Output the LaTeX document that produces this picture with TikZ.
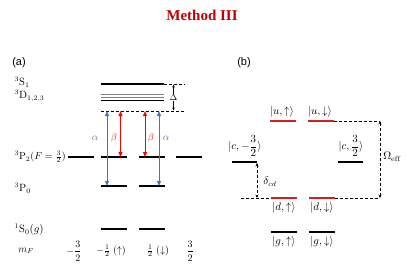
\documentclass[tikz,border=0pt]{standalone}
\usepackage{amsmath}
\usepackage{fontspec}
\setsansfont{Liberation Sans}
\newfontfamily\titlefont{Liberation Serif}
\usetikzlibrary{arrows.meta}
\definecolor{myblue}{RGB}{68,114,196}
\definecolor{myred}{RGB}{255,0,0}
\definecolor{titlered}{RGB}{192,0,0}
\definecolor{levred}{RGB}{214,30,30}
\begin{document}
\begin{tikzpicture}[x=1pt,y=-1pt,
  lev/.style={line width=1.3pt},
  glev/.style={line width=1pt,gray},
  rlev/.style={line width=1.6pt,levred},
  dline/.style={densely dashed,line width=0.6pt},
  barr/.style={myblue,line width=1pt,{Triangle[length=5pt,width=4pt]}-{Triangle[length=5pt,width=4pt]}},
  rarr/.style={myred,line width=1pt,{Triangle[length=5pt,width=4pt]}-{Triangle[length=5pt,width=4pt]}},
  darr/.style={densely dashed,line width=0.7pt,{Stealth[length=3.5pt,width=3pt]}-{Stealth[length=3.5pt,width=3pt]}},
  sarr/.style={line width=0.5pt,{Stealth[length=3pt,width=2.6pt]}-{Stealth[length=3pt,width=2.6pt]}},
  lab/.style={inner sep=0.5pt,font=\fontsize{10.5}{12}\selectfont},
  glab/.style={inner sep=0.5pt,font=\fontsize{10}{11}\selectfont},
  blab/.style={inner sep=0.5pt,font=\fontsize{10.5}{12}\selectfont},
  plab/.style={font=\sffamily\fontsize{11}{13}\selectfont}]
\useasboundingbox (0,0) rectangle (407,269);
\node[font=\titlefont\bfseries\fontsize{15}{17}\selectfont,text=titlered] (title) at (202,15) {Method III};
\node[plab] (pa) at (19,63) {(a)};
\node[plab] (pb) at (244,63) {(b)};
% ---------- panel (a) ----------
\draw[lev] (101,84) -- (164,84) coordinate (sr);
\draw[dline] (sr) -- (185,84) coordinate (dt);
\draw[glev] (101,94) -- (164,94);
\draw[glev] (101,97) -- (164,97);
\draw[line width=0.9pt] (101,100) -- (164,100);
\draw[dline] (101,111) -- (185,111) coordinate (db);
\coordinate (dA) at (173.5,84.5);
\coordinate (dB) at (173.5,110.5);
\draw[sarr] (dA) -- (dB) node[midway,fill=white,inner sep=0.3pt,font=\fontsize{9}{10}\selectfont] (dl) {$\Delta$};
% 3P2 levels
\draw[lev] (68,157) -- (94,157);
\draw[lev] (101,157) -- (127,157);
\draw[lev] (139,157) -- (165,157);
\draw[lev] (176,157) -- (202,157);
% 3P0
\draw[lev] (101,186) -- (127,186);
\draw[lev] (139,186) -- (165,186);
% 1S0
\draw[lev] (101,229) -- (127,229);
\draw[lev] (139,229) -- (165,229);
% arrows
\coordinate (a1t) at (107,111); \coordinate (a1b) at (107,186);
\coordinate (a2t) at (159,111); \coordinate (a2b) at (159,186);
\coordinate (b1t) at (120.5,111); \coordinate (b1b) at (120.5,157);
\coordinate (b2t) at (145,111); \coordinate (b2b) at (145,157);
\draw[barr] (a1t) -- (a1b);
\draw[barr] (a2t) -- (a2b);
\draw[rarr] (b1t) -- (b1b);
\draw[rarr] (b2t) -- (b2b);
\node[glab,text=myblue] (al1) at (95,138) {$\alpha$};
\node[glab,text=myred] (be1) at (114,138) {$\beta$};
\node[glab,text=myred] (be2) at (151,138) {$\beta$};
\node[glab,text=myblue] (al2) at (166,138) {$\alpha$};
% labels
\node[lab,anchor=west] (s1) at (14,82.5) {$^3\mathrm{S}_1$};
\node[lab,anchor=west] (d123) at (14,96) {$^3\mathrm{D}_{1,2,3}$};
\node[lab,anchor=west,font=\fontsize{10}{11}\selectfont] (p2) at (14,157) {$^3\mathrm{P}_2(F=\tfrac{3}{2})$};
\node[lab,anchor=west] (p0) at (14,188) {$^3\mathrm{P}_0$};
\node[lab,anchor=west] (s0) at (14,230) {$^1\mathrm{S}_0(g)$};
\node[glab] (mf) at (26,251) {$m_F$};
\node[glab] (m1) at (74,251) {$-\dfrac{3}{2}$};
\node[glab] (m2) at (111,251) {$-\tfrac{1}{2}\;(\uparrow)$};
\node[glab] (m3) at (158,251) {$\tfrac{1}{2}\;(\downarrow)$};
\node[glab] (m4) at (190,251) {$\dfrac{3}{2}$};
% ---------- panel (b) ----------
\draw[rlev] (270,121) -- (296,121);
\draw[rlev] (308,121) -- (334,121) coordinate (ur);
\coordinate (ot) at (380,121);
\draw[dline] (ur) -- (ot);
\draw[rlev] (271,198) coordinate (dl1) -- (297,198);
\draw[rlev] (309,198) -- (335,198) coordinate (dr);
\coordinate (ob) at (380,198);
\coordinate (dleft) at (241,198);
\draw[dline] (dr) -- (ob);
\draw[dline] (dleft) -- (dl1);
\draw[lev] (271,232) -- (297,232);
\draw[lev] (309,232) -- (335,232);
\draw[lev] (232,162) -- (257,162);
\draw[lev] (338,162) -- (363,162);
\coordinate (ct) at (257,163);
\coordinate (cb) at (257,198);
\draw[darr] (ct) -- (cb);
\draw[darr] (ot) -- (ob);
\node[blab] (uu) at (282,112) {$|u,\uparrow\rangle$};
\node[blab] (ud) at (320,112) {$|u,\downarrow\rangle$};
\node[blab] (cm) at (245,146) {$|c,-\dfrac{3}{2}\rangle$};
\node[blab] (cp) at (351,146) {$|c,\dfrac{3}{2}\rangle$};
\node[blab] (du) at (284,208) {$|d,\uparrow\rangle$};
\node[blab] (dd) at (322,208) {$|d,\downarrow\rangle$};
\node[blab] (gu) at (284,242) {$|g,\uparrow\rangle$};
\node[blab] (gd) at (322,242) {$|g,\downarrow\rangle$};
\node[blab] (dcd) at (270,182) {$\delta_{cd}$};
\node[lab,font=\fontsize{10.5}{12}\selectfont] (om) at (392,157) {$\Omega_{\mathrm{eff}}$};
\end{tikzpicture}
\end{document}
